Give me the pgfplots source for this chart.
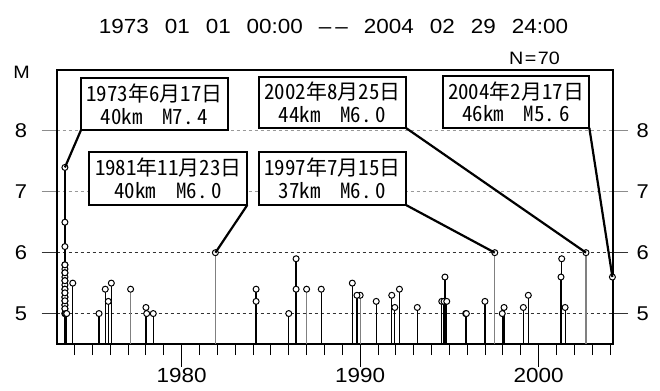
\documentclass[border=0pt]{standalone}
\usepackage{pgfplots}
\pgfplotsset{compat=1.18}
\usepackage{fontspec}
\setmainfont{Liberation Sans}[FakeStretch=1.1]
\newfontfamily\jp[RawFeature=+hwid]{Noto Sans CJK JP}
\pgfplotstableread{
x y
1973.46 7.4
1973.46 6.5
1973.46 6.1
1973.46 5.80
1973.46 5.73
1973.46 5.67
1973.46 5.60
1973.46 5.54
1973.46 5.47
1973.46 5.40
1973.46 5.34
1973.46 5.27
1973.46 5.21
1973.46 5.14
1973.46 5.08
1973.46 5.00
1973.46 5.80
1973.46 5.67
1973.46 5.54
1973.46 5.40
1973.46 5.27
1973.46 5.14
1973.46 5.00
1973.46 5.08
1973.46 5.21
1973.46 5.34
1973.50 5.0
1973.56 5.0
1973.90 5.5
1975.37 5.0
1975.72 5.4
1975.89 5.2
1976.06 5.5
1978.00 5.1
1978.04 5.0
1978.41 5.0
1984.17 5.4
1984.17 5.2
1986.00 5.0
1986.41 5.9
1986.41 5.4
1987.82 5.4
1989.56 5.5
1989.82 5.3
1990.90 5.2
1991.77 5.3
1991.94 5.1
1992.20 5.4
1993.20 5.1
1994.57 5.2
1994.70 5.2
1994.75 5.6
1994.85 5.2
1995.91 5.0
1995.95 5.0
1996.99 5.2
1997.96 5.0
1998.06 5.1
1999.14 5.1
1999.42 5.3
2001.25 5.6
2001.29 5.9
2001.48 5.1
2004.13 5.6
}\blackdata
\pgfplotstableread{
x y
1977.14 5.4
1981.89 6.0
1987.00 5.4
1990.00 5.3
1997.54 6.0
2002.65 6.0
}\graydata
\begin{document}
\begin{tikzpicture}[x=1bp,y=1bp]
\path[use as bounding box] (0,0) rectangle (660,390);
\pgfplotsset{commonax/.style={
  at={(56.7bp,46bp)}, anchor=south west,
  width=556.3bp, height=274bp, scale only axis,
  xmin=1973, xmax=2004.164, ymin=4.5, ymax=9,
  /pgf/number format/assume math mode=true,
  /pgf/number format/set thousands separator={},
}}
% grid and y ticks
\begin{axis}[commonax,
  axis line style={draw=none}, xtick=\empty,
  ytick={5,6}, extra y ticks={7,8},
  ytick pos=both, yticklabel pos=left, tick align=outside,
  major tick length=15bp,
  ymajorgrids,
  major grid style={black!80, line width=1bp, dash pattern=on 3.5bp off 2.5bp},
  major tick style={black!80, line width=1bp},
  extra y tick style={major tick style={black!45, line width=1bp},
     major grid style={black!40, line width=1bp, dash pattern=on 3.5bp off 2.5bp}},
  yticklabel style={font=\fontsize{20}{24}\selectfont, xshift=-11bp},
]
\end{axis}
% data axis
\begin{axis}[commonax,
  axis line style={line width=2.2bp},
  xtick={1980,1990,2000}, minor xtick={1974,1975,...,2004},
  ytick=\empty, xtick pos=left, tick align=outside,
  major tick length=22.7bp, minor tick length=11bp,
  every tick/.style={black, line width=1bp},
  xticklabel style={font=\fontsize{20.5}{24}\selectfont, inner ysep=1bp},
]
\addplot[ycomb, black!50, line width=1.2bp, mark=*, mark size=3bp,
  mark options={fill=white, draw=black, line width=1bp}] table[x=x,y=y] {\graydata};
\addplot[ycomb, black, line width=1.2bp, mark=*, mark size=3bp,
  mark options={fill=white, draw=black, line width=1bp}] table[x=x,y=y] {\blackdata};
\coordinate (p1) at (axis cs:1973.46,7.4);
\coordinate (p2) at (axis cs:1981.89,6.0);
\coordinate (p3) at (axis cs:2002.65,6.0);
\coordinate (p4) at (axis cs:1997.54,6.0);
\coordinate (p5) at (axis cs:2004.13,5.6);
\end{axis}
% right labels
\begin{axis}[commonax,
  axis line style={draw=none}, xtick=\empty,
  ytick={5,6,7,8}, ytick pos=right, yticklabel pos=right,
  major tick style={draw=none},
  yticklabel style={font=\fontsize{20}{24}\selectfont, xshift=20bp},
]
\end{axis}
% annotations
\draw[line width=2.2bp] (81,260) -- (p1);
\draw[line width=2.2bp] (247.3,185) -- (p2);
\draw[line width=2.2bp] (406,262) -- (p3);
\draw[line width=2.2bp] (406,185) -- (p4);
\draw[line width=2.2bp] (589.3,262.3) -- (p5);
\tikzset{lab/.style={draw, fill=white, line width=2.2bp, inner sep=0pt, align=center,
  font=\jp\fontsize{21}{23}\selectfont}}
\newcommand\mg{\hspace{20bp}}
\newcommand\dt{.\hspace{4bp}}
\node[lab, minimum width=147bp, minimum height=52bp] at (154.5,286) {1973年6月17日\\40km\mg M7\dt 4};
\node[lab, minimum width=158bp, minimum height=53bp] at (168.3,211.7) {1981年11月23日\\40km\mg M6\dt 0};
\node[lab, minimum width=147bp, minimum height=51bp] at (332.5,287.5) {2002年8月25日\\44km\mg M6\dt 0};
\node[lab, minimum width=147bp, minimum height=53bp] at (332.5,211.5) {1997年7月15日\\37km\mg M6\dt 0};
\node[lab, minimum width=146.6bp, minimum height=51.7bp] at (516,288.2) {2004年2月17日\\46km\mg M5\dt 6};
% titles
\node[font=\fontsize{20.5}{24}\selectfont] at (333.5,364) {1973\hspace{16bp}01\hspace{16bp}01\hspace{16bp}00:00\hspace{16bp}–\hspace{4bp}–\hspace{16bp}2004\hspace{16bp}02\hspace{16bp}29\hspace{16bp}24:00};
\node[font=\fontsize{18}{20}\selectfont] at (534.5,331.3) {N\hspace{1.5bp}=\hspace{1.5bp}70};
\node[font=\fontsize{18}{20}\selectfont] at (21.7,318) {M};
\end{tikzpicture}
\end{document}
